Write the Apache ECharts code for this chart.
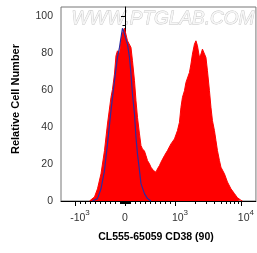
<!DOCTYPE html>
<html>
<head>
<meta charset="utf-8">
<script src="https://cdn.jsdelivr.net/npm/echarts@6/dist/echarts.min.js"></script>
<style>
  html, body { margin: 0; padding: 0; background: #fff; }
  #chart { width: 257px; height: 253px; }
</style>
</head>
<body>
<div id="chart"></div>
<script>
// x positions are in display units of the biexponential axis (0 -> 0, 1 -> 10^3)
const redX = [-0.71, -0.61, -0.55, -0.48, -0.41, -0.35, -0.28, -0.25, -0.21, -0.18, -0.15, -0.11, -0.08, -0.05, -0.01,
  0.02, 0.05, 0.09, 0.12, 0.15, 0.19, 0.22, 0.25, 0.29, 0.32, 0.35, 0.39, 0.42, 0.45, 0.49, 0.52, 0.57, 0.62, 0.65,
  0.69, 0.72, 0.79, 0.85, 0.89, 0.92, 0.99, 1.05, 1.09, 1.12, 1.15, 1.19, 1.22, 1.25, 1.29, 1.32, 1.35, 1.39, 1.42,
  1.45, 1.49, 1.52, 1.55, 1.59, 1.62, 1.65, 1.69, 1.72, 1.75, 1.79, 1.82, 1.85, 1.89, 1.92, 1.99, 2.05, 2.12, 2.19,
  2.25, 2.32, 2.35]
const redY = [0, 2.2, 6.6, 14.7, 27.3, 41.7, 56.1, 60.4, 68.7, 78.6, 81.3, 79.5, 86.7, 91.2, 93.5,
  93.0, 86.7, 87.6, 83.1, 75.9, 65.1, 54.3, 45.3, 36.3, 30.0, 28.2, 27.0, 24.6, 21.9, 20.1, 18.3, 16.5, 15.6, 17.4,
  19.2, 21.0, 24.6, 27.3, 26.4, 30.9, 33.6, 38.1, 42.6, 50.7, 56.1, 59.7, 64.2, 65.1, 69.6, 74.1, 79.5, 84.9, 86.7,
  84.0, 77.7, 79.5, 82.2, 81.3, 77.7, 70.5, 59.7, 50.7, 43.5, 38.1, 32.7, 27.3, 21.9, 18.3, 14.7, 10.3, 6.6, 4.0,
  1.8, 0.4, 0]

const blueX = [-0.65, -0.55, -0.48, -0.41, -0.35, -0.28, -0.21, -0.15, -0.11, -0.08, -0.05, -0.03, 0, 0.02, 0.05,
  0.09, 0.12, 0.15, 0.19, 0.22, 0.25, 0.29, 0.32, 0.39, 0.45, 0.52]
const blueY = [0, 1.3, 6.6, 16.5, 30.9, 48.9, 65.1, 77.7, 83.1, 88.5, 93.5, 92.1, 89.4, 90.3, 84.9,
  77.7, 68.7, 57.9, 47.1, 34.5, 25.5, 16.5, 9.4, 4.0, 1.3, 0]

const xTickValues = [-1000, 0, 1000, 10000]
const xTickBase = ['-10', '0', '10', '10']
const xTickExp = ['3', '', '3', '4']
const xMinorValues = [-900, -800, -700, -600, -500, -400, -300, -200, -100,
  -90, -80, -70, -60, -50, -40, -30, -20, -10, 10, 20, 30, 40, 50, 60, 70, 80, 90,
  100, 200, 300, 400, 500, 600, 700, 800, 900,
  2000, 3000, 4000, 5000, 6000, 7000, 8000, 9000]
const yTickValues = [0, 20, 40, 60, 80, 100]
const yMinorValues = [5, 10, 15, 25, 30, 35, 45, 50, 55, 65, 70, 75, 85, 90, 95]

// linear around zero, one decade = 1.32 units above 10^3
const DECADE = 1.32
const toDisplay = v => {
  const a = Math.abs(v)
  const d = a <= 1000 ? a / 1000 : 1 + Math.log10(a / 1000) * DECADE
  return v < 0 ? -d : d
}

const X_MIN = -1.28
const X_MAX = 2.62
const majorX = xTickValues.map(toDisplay)
const minorX = xMinorValues.map(toDisplay)

const chart = echarts.init(document.getElementById('chart'))

const labelFont = { fontFamily: 'Liberation Sans, Arial, sans-serif', color: '#333' }

chart.setOption({
  animation: false,
  grid: {
    left: 61, right: 1, top: 7, bottom: 52,
    show: true, borderColor: '#777', borderWidth: 1
  },
  graphic: [{
    type: 'text',
    left: 71, top: 9,
    style: {
      text: 'WWW.PTGLAB.COM',
      fontFamily: 'Liberation Sans, Arial, sans-serif',
      fontStyle: 'italic',
      fontSize: 19,
      fill: '#f6f6f6',
      stroke: '#c4c4c4',
      lineWidth: 0.8
    },
    z: 0
  }],
  xAxis: [{
    type: 'value',
    min: X_MIN, max: X_MAX,
    splitLine: { show: false },
    axisLine: { lineStyle: { color: '#000', width: 1 } },
    axisTick: { customValues: majorX, length: 5, lineStyle: { color: '#000' } },
    axisLabel: {
      customValues: majorX,
      margin: 8,
      formatter: v => {
        const i = majorX.findIndex(m => Math.abs(m - v) < 1e-6)
        if (i < 0) return ''
        return xTickExp[i] ? '{b|' + xTickBase[i] + '}{s|' + xTickExp[i] + '}' : '{z|' + xTickBase[i] + '}'
      },
      rich: {
        b: { ...labelFont, fontSize: 10.5, lineHeight: 15, verticalAlign: 'bottom', padding: [0, 0, 0, 10] },
        z: { ...labelFont, fontSize: 10.5, lineHeight: 15, verticalAlign: 'bottom' },
        s: { ...labelFont, fontSize: 8, lineHeight: 15, verticalAlign: 'top' }
      }
    },
    name: 'CL555-65059 CD38 (90)',
    nameLocation: 'middle',
    nameGap: 31,
    nameTextStyle: { fontFamily: 'Liberation Sans, Arial, sans-serif', fontWeight: 'bold', fontSize: 10.5, color: '#000', padding: [0, 5, 0, 0] }
  }, {
    type: 'value',
    min: X_MIN, max: X_MAX,
    position: 'bottom',
    splitLine: { show: false },
    axisLine: { show: false },
    axisLabel: { show: false },
    axisTick: { customValues: minorX, length: 3, lineStyle: { color: '#000' } }
  }],
  yAxis: [{
    type: 'value',
    min: 0, max: 105,
    splitLine: { show: false },
    axisLine: { show: true, lineStyle: { color: '#000', width: 1 } },
    axisTick: { show: true, customValues: yTickValues, length: 4, lineStyle: { color: '#000' } },
    axisLabel: { customValues: yTickValues, margin: 8, ...labelFont, fontSize: 10.5 },
    name: 'Relative Cell Number',
    nameLocation: 'middle',
    nameGap: 40,
    nameTextStyle: { fontFamily: 'Liberation Sans, Arial, sans-serif', fontWeight: 'bold', fontSize: 11, color: '#000', padding: [0, 0, 0, 10] }
  }, {
    type: 'value',
    min: 0, max: 105,
    position: 'left',
    splitLine: { show: false },
    axisLine: { show: false },
    axisLabel: { show: false },
    axisTick: { show: true, customValues: yMinorValues, length: 2.5, lineStyle: { color: '#000' } }
  }],
  series: [{
    name: 'CD38',
    type: 'line',
    data: redX.map((x, i) => [x, redY[i]]),
    showSymbol: false,
    lineStyle: { color: '#ff0000', width: 1 },
    areaStyle: { color: '#ff0000', opacity: 1 },
    z: 2
  }, {
    name: 'Control',
    type: 'line',
    data: blueX.map((x, i) => [x, blueY[i]]),
    showSymbol: false,
    lineStyle: { color: '#2e2aa0', width: 1.2 },
    z: 3
  }]
})
</script>
</body>
</html>
